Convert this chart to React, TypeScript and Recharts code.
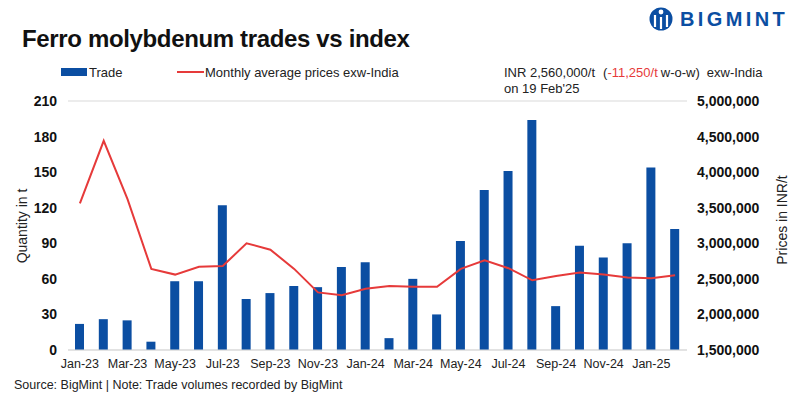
import { ComposedChart, Bar, Line, XAxis, YAxis, CartesianGrid } from 'recharts'

const months = [
  'Jan-23', 'Feb-23', 'Mar-23', 'Apr-23', 'May-23', 'Jun-23', 'Jul-23', 'Aug-23', 'Sep-23',
  'Oct-23', 'Nov-23', 'Dec-23', 'Jan-24', 'Feb-24', 'Mar-24', 'Apr-24', 'May-24', 'Jun-24',
  'Jul-24', 'Aug-24', 'Sep-24', 'Oct-24', 'Nov-24', 'Dec-24', 'Jan-25', 'Feb-25',
]

// Trade volumes in t
const trade = [
  22, 26, 25, 7, 58, 58, 122, 43, 48, 54, 53, 70, 74, 10, 60, 30, 92, 135, 151, 194, 37, 88, 78,
  90, 154, 102,
]

// Monthly average prices exw-India, INR/t
const prices = [
  3560000, 4440000, 3620000, 2640000, 2560000, 2670000, 2680000, 3000000, 2910000, 2640000,
  2310000, 2270000, 2360000, 2400000, 2390000, 2390000, 2640000, 2760000, 2650000, 2480000,
  2540000, 2590000, 2560000, 2520000, 2510000, 2550000,
]

const qtyTicks = [0, 30, 60, 90, 120, 150, 180, 210]
const priceTicks = [1500000, 2000000, 2500000, 3000000, 3500000, 4000000, 4500000, 5000000]

const data = months.map((m, i) => ({ month: m, trade: trade[i], price: prices[i] }))

const BLUE = '#0b4ea2'
const RED = '#e63a3a'
const narrow = "'Liberation Sans Narrow', 'Liberation Sans', Arial, sans-serif"
const sans = "'Liberation Sans', Arial, sans-serif"

export default function App() {
  return (
    <div style={{ position: 'absolute', left: 0, top: 0, width: 800, height: 399, background: '#fff' }}>
      <ComposedChart
        width={800}
        height={399}
        data={data}
        margin={{ top: 101, right: 28, bottom: 29, left: 8 }}
      >
        <CartesianGrid vertical={false} stroke="#d9d9d9" />
        <XAxis
          dataKey="month"
          interval={1}
          tickLine={false}
          axisLine={{ stroke: '#d9d9d9' }}
          tickSize={0}
          tickMargin={9}
          height={20}
          tick={{ fontFamily: narrow, fontSize: 12.5, fill: '#222' }}
        />
        <YAxis
          yAxisId="qty"
          domain={[0, 210]}
          ticks={qtyTicks}
          width={60}
          tickLine={false}
          axisLine={false}
          tickSize={0}
          tickMargin={11}
          tick={{ fontFamily: sans, fontSize: 14, fontWeight: 'bold', fill: '#111' }}
        />
        <YAxis
          yAxisId="price"
          orientation="right"
          domain={[1500000, 5000000]}
          ticks={priceTicks}
          width={85}
          tickLine={false}
          axisLine={false}
          tickSize={0}
          tickMargin={10}
          tickFormatter={(v: number) => v.toLocaleString('en-US')}
          tick={{ fontFamily: sans, fontSize: 14, fontWeight: 'bold', fill: '#111' }}
        />
        <Bar yAxisId="qty" dataKey="trade" fill={BLUE} barSize={9} isAnimationActive={false} />
        <Line
          yAxisId="price"
          dataKey="price"
          stroke={RED}
          strokeWidth={2}
          dot={false}
          type="linear"
          isAnimationActive={false}
        />
      </ComposedChart>

      <svg
        width={800}
        height={399}
        style={{ position: 'absolute', left: 0, top: 0, pointerEvents: 'none' }}
      >
        {/* Logo */}
        <circle cx={661} cy={19} r={11.5} fill={BLUE} />
        <circle cx={661} cy={12} r={2.4} fill="#fff" />
        <path d="M655 15 L655 27 M661 17 L661 29 M667 15 L667 27" stroke="#fff" strokeWidth={2.2} />
        <text x={680} y={26} fontFamily={sans} fontSize={20} fontWeight="bold" fill={BLUE} letterSpacing={3.4}>
          BIGMINT
        </text>

        {/* Title */}
        <text x={22} y={47} fontFamily={sans} fontSize={24} fontWeight="bold" fill="#111" letterSpacing={-0.35}>
          Ferro molybdenum trades vs index
        </text>

        {/* Legend */}
        <rect x={61} y={68} width={26} height={8} fill={BLUE} />
        <text x={89} y={77} fontFamily={narrow} fontSize={13} fill="#222">Trade</text>
        <rect x={177} y={71} width={27} height={2} fill={RED} />
        <text x={205} y={77} fontFamily={narrow} fontSize={13} fill="#222">Monthly average prices exw-India</text>

        {/* Price note */}
        <text x={504} y={77} fontFamily={narrow} fontSize={13} fill="#222">
          <tspan>INR 2,560,000/t</tspan>
          <tspan dx={8}>(</tspan>
          <tspan fill={RED}>-11,250/t</tspan>
          <tspan dx={3}>w-o-w)</tspan>
          <tspan dx={7}>exw-India</tspan>
        </text>
        <text x={504} y={93} fontFamily={narrow} fontSize={13} fill="#222">on 19 Feb'25</text>

        {/* Axis titles */}
        <text
          transform="translate(27,226) rotate(-90)"
          textAnchor="middle"
          fontFamily={narrow}
          fontSize={14}
          fill="#222"
        >
          Quantity in t
        </text>
        <text
          transform="translate(787,220) rotate(-90)"
          textAnchor="middle"
          fontFamily={narrow}
          fontSize={14}
          fill="#222"
        >
          Prices in INR/t
        </text>

        {/* Footer */}
        <text x={14} y={389} fontFamily={narrow} fontSize={12.5} fill="#222">
          Source: BigMint | Note: Trade volumes recorded by BigMint
        </text>
      </svg>
    </div>
  )
}
